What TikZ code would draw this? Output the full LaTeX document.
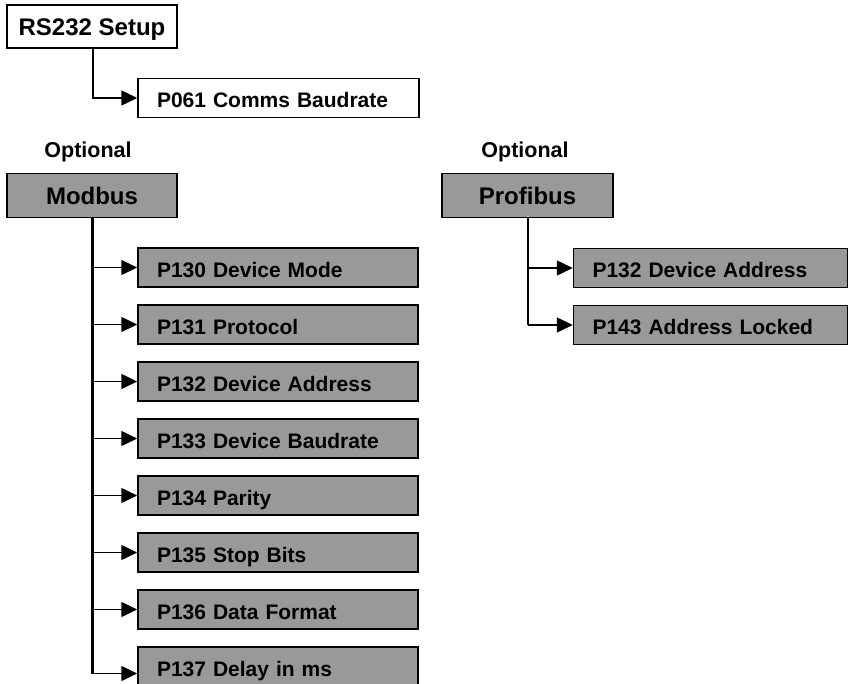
\documentclass[tikz,border=0pt]{standalone}
\usepackage{fontspec}
\setmainfont{Liberation Sans}
\usetikzlibrary{arrows.meta}
\definecolor{boxgray}{RGB}{153,153,153}
\begin{document}
\begin{tikzpicture}[x=1pt,y=-1pt,
  parentbox/.style={draw=black,line width=1.5pt,minimum width=170pt,minimum height=44pt,inner sep=0pt,
    font=\fontsize{24}{28}\selectfont\bfseries,text height=18.5pt,text depth=0pt},
  childbox/.style={draw=black,fill=boxgray,line width=1.5pt,minimum height=39pt,inner xsep=19pt,inner ysep=0pt,
    text width=242pt,align=left,font=\fontsize{21}{25}\selectfont\bfseries,text height=19.5pt,text depth=0pt},
  pchild/.style={childbox,text width=236pt},
  lbl/.style={font=\fontsize{21.5}{25}\selectfont\bfseries,anchor=base,inner sep=0pt},
  conn/.style={line width=1.5pt,-{Triangle[length=16pt,width=15pt]}},
]
\useasboundingbox (0,0) rectangle (849,683);
\clip (0,0) rectangle (849,683);

% RS232
\node[parentbox,fill=white,minimum height=43pt] (rs) at (92,26.5) {RS232 Setup};
\node[childbox,fill=white,text width=243pt] (p061) at (278.5,98) {P061 Comms Baudrate};
\draw[conn] ([xshift=1pt]rs.south) |- (p061.west);

% labels
\node[lbl] (opt1) at (88,157) {Optional};
\node[lbl] (opt2) at (525,157) {Optional};

% Modbus
\node[parentbox,fill=boxgray] (mod) at (92,195.5) {Modbus};
\node[childbox] (m1) at (278,267.5) {P130 Device Mode};
\node[childbox] (m2) at (278,324.5) {P131 Protocol};
\node[childbox] (m3) at (278,381.5) {P132 Device Address};
\node[childbox] (m4) at (278,438.5) {P133 Device Baudrate};
\node[childbox] (m5) at (278,495.5) {P134 Parity};
\node[childbox] (m6) at (278,552.5) {P135 Stop Bits};
\node[childbox] (m7) at (278,609.5) {P136 Data Format};
\node[childbox] (m8) at (278,666.5) {P137 Delay in ms};
\coordinate (mend) at ([yshift=-7pt]m8.west);
\draw[line width=3pt] (mod.south) -- (mod.south |- mend);
\foreach \k in {1,...,7}{
  \draw[conn] (mod.south |- m\k.west) -- (m\k.west);
}
\draw[conn] (mod.south |- mend) -- (mend);

% Profibus
\node[parentbox,fill=boxgray,minimum width=171pt] (prof) at (527.5,195.5) {Profibus};
\node[pchild] (q1) at (710.5,268) {P132 Device Address};
\node[pchild] (q2) at (710.5,325) {P143 Address Locked};
\draw[line width=2pt] (prof.south) -- (prof.south |- q2.west);
\draw[conn] (prof.south |- q1.west) -- (q1.west);
\draw[conn] (prof.south |- q2.west) -- (q2.west);
\end{tikzpicture}
\end{document}
